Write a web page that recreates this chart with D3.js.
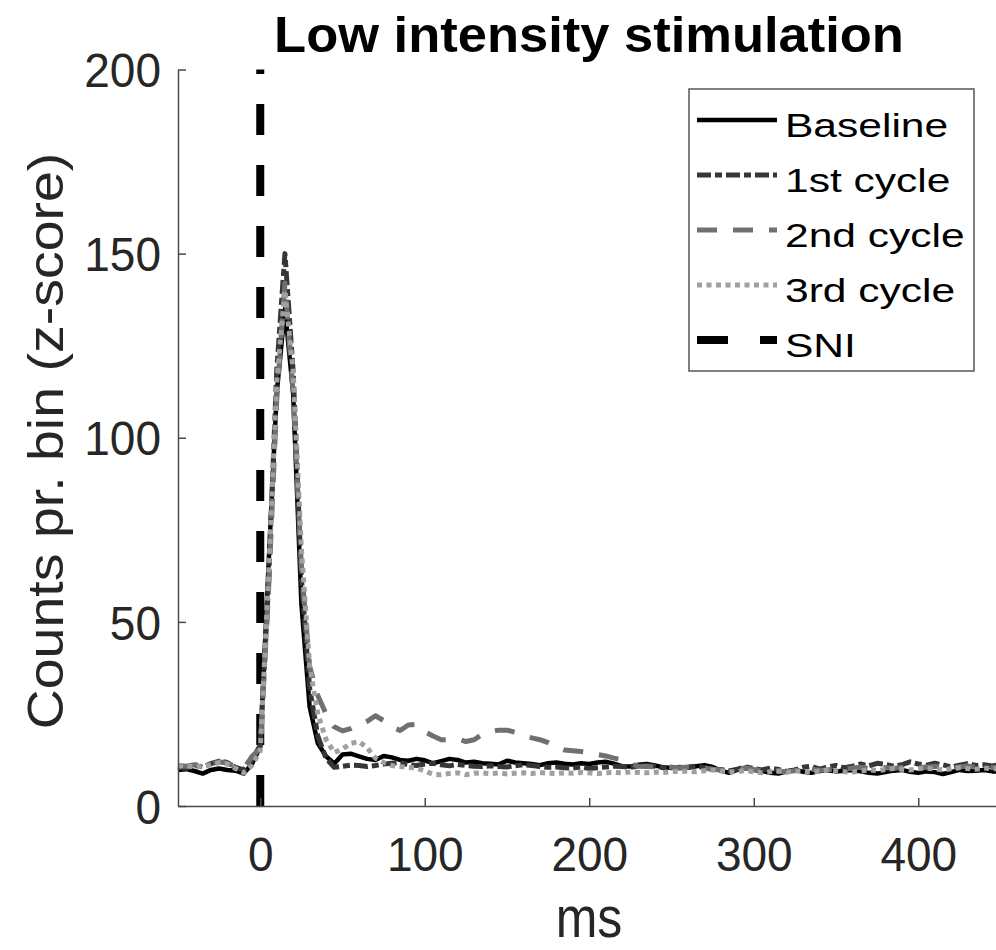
<!DOCTYPE html>
<html><head><meta charset="utf-8">
<script src="https://cdn.jsdelivr.net/npm/d3@7"></script>
<style>html,body{margin:0;padding:0;background:#fff;overflow:hidden}svg{display:block}</style>
</head><body>
<svg id="chart" width="996" height="950"></svg>
<script>
const timeBins = [-50,-45,-40,-35,-30,-25,-20,-15,-10,-5,0,5,10,15,20,25,30,35,40,45,50,55,60,65,70,75,80,85,90,95,100,105,110,115,120,125,130,135,140,145,150,155,160,165,170,175,180,185,190,195,200,205,210,215,220,225,230,235,240,245,250,255,260,265,270,275,280,285,290,295,300,305,310,315,320,325,330,335,340,345,350,355,360,365,370,375,380,385,390,395,400,405,410,415,420,425,430,435,440,445,450];

const baseline = [9.8,10.0,9.5,8.8,9.8,10.2,9.8,9.6,8.8,11.5,16,
 65,112,135,112,55,27,17,13.5,11.5,14,
 14.2,13.5,12.8,12.5,13.6,13.2,12.5,12.3,12.8,12.4,
 11.6,12.2,12.8,12.5,11.8,12,11.6,11.5,11.3,12.3,
 11.8,11.6,11.4,11.1,11.6,11.8,11.5,11.3,11.6,11.4,
 11.8,12.0,11.5,10.8,10.7,11.2,11.4,11,10.5,10.3,
 10.6,10.4,10.8,11.1,10.6,9.6,9.0,9.8,10.4,9.8,
 9.5,9.0,8.8,9.4,9.8,9.3,9.0,9.5,9.7,9.4,
 9.6,9.8,9.4,9.0,8.8,9.2,9.6,9.8,9.3,9.0,
 9.4,9.2,8.7,9.2,9.8,9.5,9.6,9.8,9.4,9.3];

const cycle1 = [10.5,10.2,11.0,10.6,11.5,12.2,11.8,10.5,9.8,12.5,16.5,
 60,118,150,118,62,32,19,13,10.5,10.8,
 11.1,11.0,10.7,11.0,11.4,11.6,11.8,11.2,11.0,11.4,
 11.6,11.2,10.9,11.3,11.0,10.8,10.7,10.9,10.7,10.6,
 10.9,11.2,11.0,10.7,10.5,10.6,10.4,10.3,10.6,10.2,
 10.4,10.6,10.8,10.7,10.5,10.9,11.0,10.8,10.4,10.5,
 10.3,10.6,10.8,10.4,10.0,9.9,9.5,10.0,10.6,10.2,
 9.8,10.3,9.9,9.4,9.8,10.5,10.8,10.0,10.6,11.0,
 10.4,10.8,11.4,10.9,11.6,11.3,10.8,11.2,12.0,11.4,
 11.1,11.6,11.2,10.6,11.1,11.5,11.0,11.2,10.9,11.3];

const cycle2 = [11.0,10.8,11.2,11.0,11.4,12.0,11.6,10.8,10.2,13.5,15.5,
 58,110,142,112,65,38,30,25,21.5,20.4,
 21,22,23,24.5,23.2,21.5,20.5,22,22.2,20.2,
 19,18,18,18.2,17.5,18,19.5,20.2,20.6,20.6,
 20,19,18.5,18,17.2,16,15.2,15,14.8,14.5,
 14,13.6,13,12.5,11.5,10.8,10.7,10.6,10.7,10.5,
 10.4,10.6,10.7,10.3,10.0,9.8,9.6,10.0,10.3,9.9,
 9.6,9.8,9.5,9.2,9.6,9.9,10.0,9.7,9.8,10.2,
 10.0,10.3,10.5,10.2,10.6,10.4,10.2,10.5,10.8,10.4,
 10.6,10.8,10.5,10.2,10.6,10.9,10.5,10.6,10.4,10.7];

const cycle3 = [10.8,11.0,10.5,10.9,11.2,11.8,11.4,10.2,9.0,11.0,15,
 62,115,140,118,70,38,25,18,14.5,15.5,
 17,17.5,15.8,13,11.8,11.0,10.7,10.5,10.3,9.5,
 8.6,8.5,8.8,9.0,8.5,8.9,9.0,8.8,9.0,8.7,
 8.9,9.0,8.8,9.1,8.9,8.8,9.0,8.9,9.1,9.0,
 8.8,9.0,9.1,9.0,9.2,9.1,9.0,9.2,9.1,9.3,
 9.5,9.4,9.3,9.6,9.8,9.5,9.2,9.4,9.6,9.3,
 9.0,9.3,9.5,9.2,9.6,9.4,9.2,9.5,9.8,9.6,
 9.3,9.2,9.5,9.8,9.6,9.9,10.2,10.0,9.8,10.1,
 10.3,10.0,9.8,10.1,10.4,10.2,10.0,10.3,10.1,10.2];

const sniX = [0, 0];
const sniY = [0, 200];

const xTicks = [0, 100, 200, 300, 400];
const yTicks = [0, 50, 100, 150, 200];
const legendLabels = ["Baseline", "1st cycle", "2nd cycle", "3rd cycle", "SNI"];

const FONT = "'Liberation Sans', Arial, Helvetica, sans-serif";
const svg = d3.select("#chart");
const x = d3.scaleLinear().domain([-50, 450]).range([178, 1000.5]);
const y = d3.scaleLinear().domain([0, 200]).range([806, 69.5]);

const styles = [
  {color:"#000000", width:4.5, dash:null},
  {color:"#363636", width:5, dash:"14,4,7,4"},
  {color:"#707070", width:5, dash:"20,16"},
  {color:"#a0a0a0", width:5, dash:"5,4.5"}
];
const seriesData = [baseline, cycle1, cycle2, cycle3];

const line = d3.line().x((d,i)=>x(timeBins[i])).y(d=>y(d));

// SNI vertical line
svg.append("path")
  .attr("d", d3.line().x(d=>x(d[0])).y(d=>y(d[1]))(sniX.map((v,i)=>[v, sniY[i]])))
  .attr("stroke","#000").attr("stroke-width",8).attr("fill","none")
  .attr("stroke-dasharray","31,30");

seriesData.forEach((s,k)=>{
  svg.append("path").attr("d", line(s))
    .attr("fill","none").attr("stroke",styles[k].color)
    .attr("stroke-width",styles[k].width)
    .attr("stroke-linejoin","round")
    .attr("stroke-dasharray",styles[k].dash);
});

// axes
const axisColor = "#262626";
const TS = 46, SY = 1.04;
const gx = svg.append("g").attr("transform","translate(0,806)")
  .call(d3.axisBottom(x).tickValues(xTicks).tickSize(-8).tickSizeOuter(0));
const gy = svg.append("g").attr("transform","translate(178,0)")
  .call(d3.axisLeft(y).tickValues(yTicks).tickSize(-8).tickSizeOuter(0));
[gx, gy].forEach(g=>{
  g.select(".domain").attr("stroke","#4a4a4a").attr("stroke-width",1.5);
  g.selectAll(".tick line").attr("stroke","#4a4a4a").attr("stroke-width",1.5);
  g.selectAll(".tick text").attr("fill",axisColor)
    .style("font-family",FONT).style("font-size",TS+"px")
    .attr("x",0).attr("y",0).attr("dy",null);
});
gx.selectAll(".tick text").attr("transform",`translate(0,65) scale(1,${SY})`);
gy.selectAll(".tick text").attr("transform",`translate(-17,${0.716*TS*SY/2}) scale(1,${SY})`);

// title
svg.append("text").attr("transform","translate(589,52) scale(1.05,1)").attr("text-anchor","middle")
  .style("font-family",FONT).style("font-weight","bold")
  .style("font-size","50px").attr("fill","#000").text("Low intensity stimulation");

// x label
svg.append("text").attr("transform","translate(589,937) scale(1,1.14)").attr("text-anchor","middle")
  .style("font-family",FONT).style("font-size","50px")
  .attr("fill",axisColor).text("ms");

// y label
svg.append("text").attr("transform","translate(63,441) rotate(-90) scale(1.11,1)").attr("text-anchor","middle")
  .style("font-family",FONT).style("font-size","50px")
  .attr("fill",axisColor).text("Counts pr. bin (z-score)");

// legend
const lg = svg.append("g");
lg.append("rect").attr("x",689).attr("y",89).attr("width",285).attr("height",282)
  .attr("fill","#fff").attr("stroke","#555").attr("stroke-width",1.5);
const legStyles = styles.concat([{color:"#000", width:8, dash:"31,32"}]);
legendLabels.forEach((lab,i)=>{
  const ly = 120 + i*55;
  const st = legStyles[i];
  lg.append("line").attr("x1",697).attr("x2",777).attr("y1",ly).attr("y2",ly)
    .attr("stroke",st.color).attr("stroke-width", st.width)
    .attr("stroke-dasharray", st.dash);
  lg.append("text").attr("transform",`translate(785,${137.3 + i*55}) scale(1.27,1)`)
    .style("font-family",FONT).style("font-size","33.5px")
    .attr("fill","#000").text(lab);
});
</script>
</body></html>
